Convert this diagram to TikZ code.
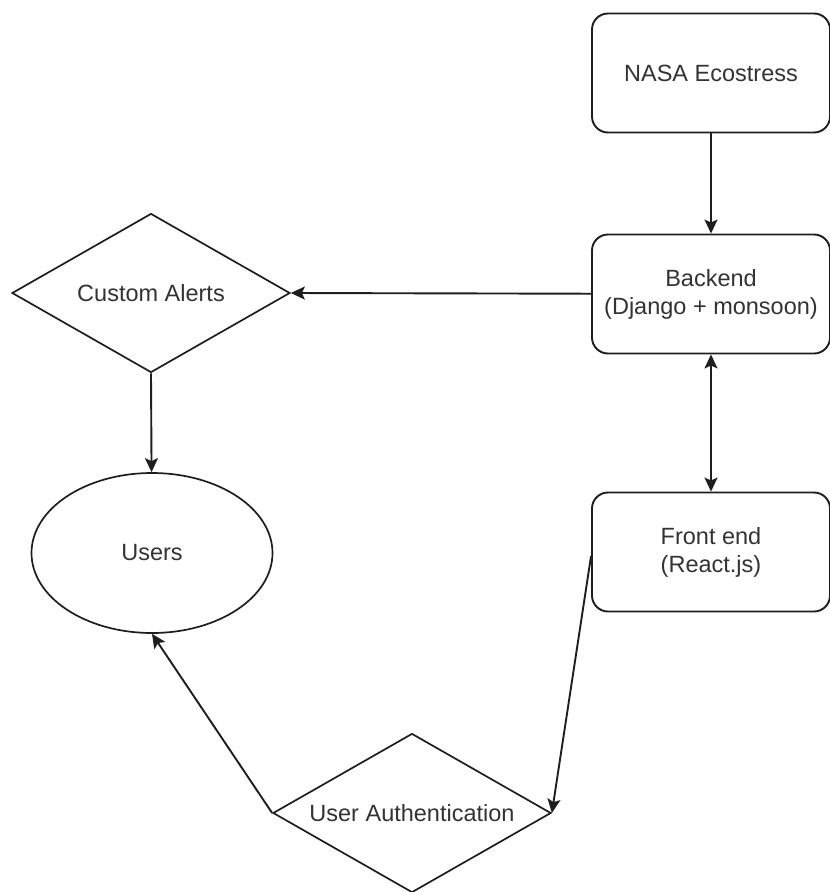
\documentclass[tikz,border=0pt]{standalone}
\usepackage{fontspec}
\setmainfont{Liberation Sans}
\usetikzlibrary{shapes.geometric,arrows.meta}
\definecolor{linec}{HTML}{1E1E1E}
\definecolor{textc}{HTML}{333333}
\tikzset{
  lbl/.style={font=\fontsize{23.5}{28}\selectfont, text=textc, align=center},
  boxnode/.style={draw=linec, line width=1.9pt, rounded corners=16pt, minimum width=238pt, minimum height=119pt, inner sep=0pt, lbl},
  decision/.style={draw=linec, line width=1.7pt, diamond, minimum width=278pt, minimum height=159pt, inner sep=0pt},
  usernode/.style={draw=linec, line width=1.7pt, ellipse, minimum width=241pt, minimum height=160pt, inner sep=0pt, lbl},
  conn/.style={draw=linec, line width=1.9pt, -{Stealth[length=14pt, width=13pt, inset=3pt]}},
  conn2/.style={draw=linec, line width=1.9pt, {Stealth[length=14pt, width=13pt, inset=3pt]}-{Stealth[length=14pt, width=13pt, inset=3pt]}}
}
\begin{document}
\begin{tikzpicture}[x=1pt, y=-1pt]
\useasboundingbox[fill=white] (0,0) rectangle (830,892);
\node[boxnode] (nasa) at (711,73) {NASA Ecostress};
\node[boxnode] (backend) at (711,294) {Backend\\(Django + monsoon)};
\node[boxnode] (front) at (711,552) {Front end\\(React.js)};
\node[decision, label={[lbl]center:Custom Alerts}] (alerts) at (151,293) {};
\node[usernode] (users) at (152,553) {Users};
\node[decision, label={[lbl]center:User Authentication}] (auth) at (412,813) {};
\draw[conn] (nasa) -- (backend);
\draw[conn] (backend) -- (alerts.east);
\draw[conn] (alerts.south) -- (users);
\draw[conn2] (backend) -- (front);
\draw[conn] ([yshift=-4pt]front.west) -- (auth.east);
\draw[conn] (auth.west) -- (users.south);
\end{tikzpicture}
\end{document}
